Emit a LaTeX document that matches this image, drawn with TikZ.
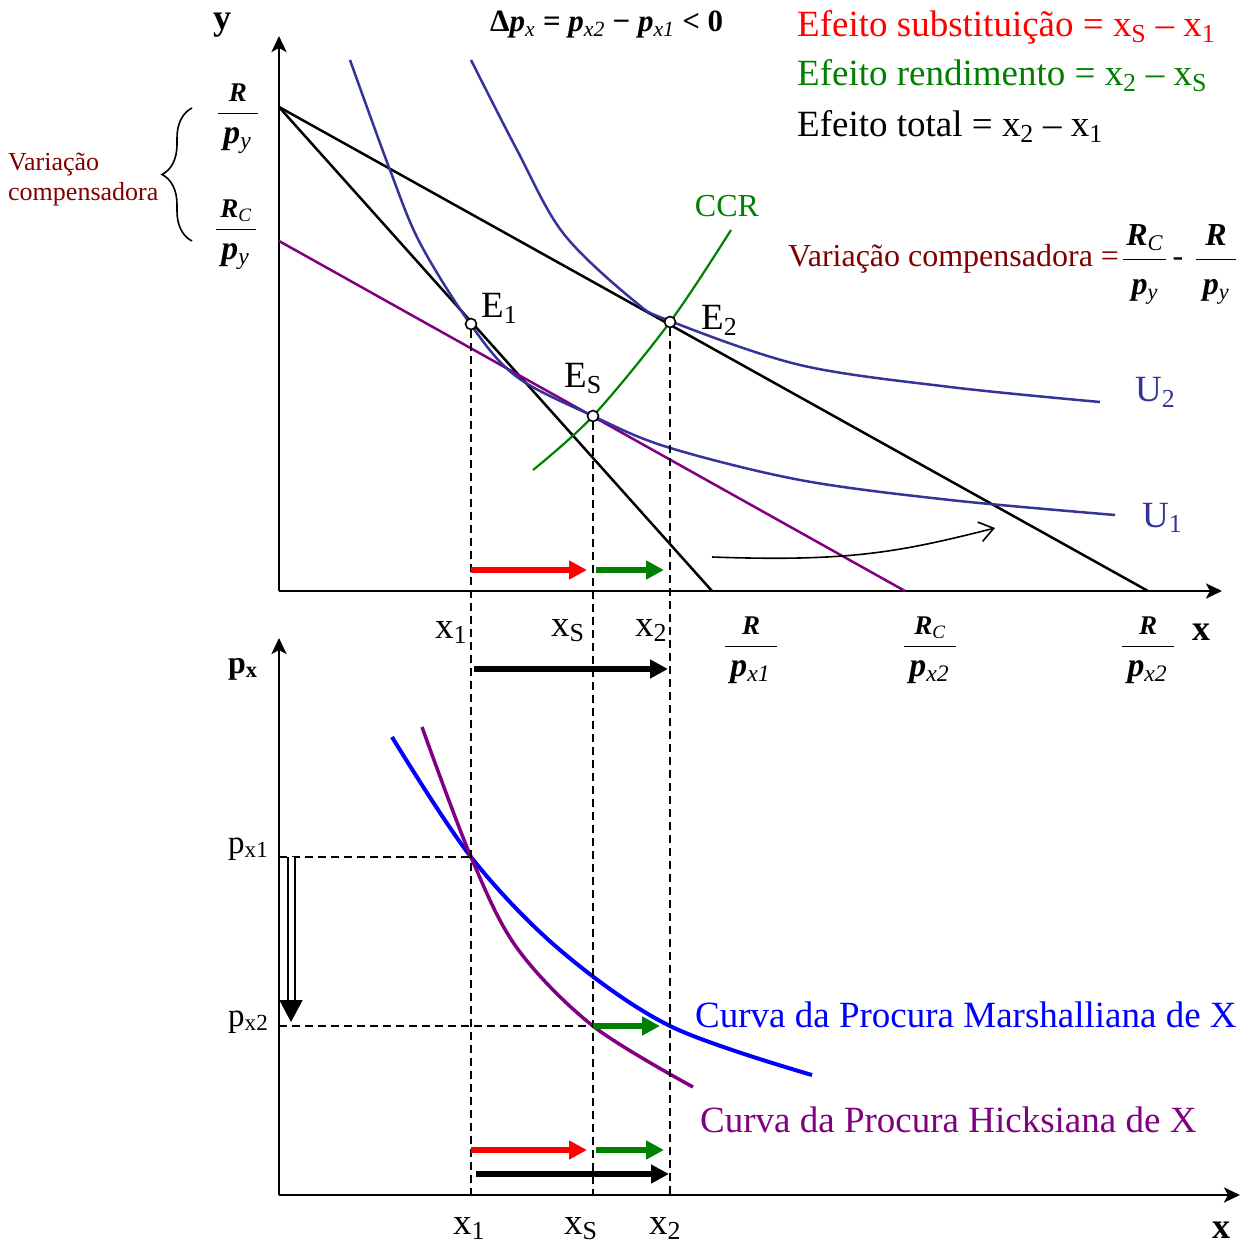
\documentclass[tikz,border=0pt]{standalone}
\usepackage{fix-cm}
\usepackage{amsmath}
\usepackage{fontspec}
\setmainfont{Liberation Serif}
\usetikzlibrary{arrows.meta,decorations.pathreplacing}
\definecolor{bleuU}{RGB}{51,51,153}
\definecolor{hicks}{RGB}{128,0,128}
\definecolor{vertCCR}{RGB}{0,128,0}
\definecolor{bordeaux}{RGB}{128,0,0}
\definecolor{marshall}{RGB}{0,0,255}
\newcommand{\taille}[1]{\fontsize{#1}{#1}\selectfont}
\newcommand{\ind}[1]{\textsubscript{\mdseries #1}}
\makeatletter
\newcommand{\grandp}{\fontsize{\strip@pt\dimexpr1.25\dimexpr\f@size pt\relax\relax}{0}\selectfont}
\makeatother
\newcommand{\fr}[2]{$\dfrac{\text{\bfseries\itshape\hspace{.1em}#1\hspace{.1em}}}{\rule{0pt}{1em}\text{\bfseries\itshape\hspace{.2em}#2\hspace{.2em}}}$}
\begin{document}
\begin{tikzpicture}[x=1pt,y=-1pt]
		% Styles
		\tikzstyle{axe}=[line width=2.8pt,-{Stealth[length=16pt,width=15pt,inset=4pt]}]
		\tikzstyle{budget}=[line width=2.5pt,black]
		\tikzstyle{indiff}=[line width=2.5pt,bleuU]
		\tikzstyle{pointille}=[line width=2pt,dash pattern=on 8pt off 5pt]
		\tikzstyle{point}=[circle,draw,fill=white,line width=1.6pt,minimum size=11pt,inner sep=0pt]
		\tikzstyle{effet}=[line width=6pt,-{Triangle[length=18pt,width=18pt]}]
		\tikzstyle{texte}=[inner sep=0pt,font=\taille{37}]
		\tikzstyle{fraction}=[inner sep=0pt,anchor=base,font=\taille{27}]
		% Dimensions
		\def\yEffetA{570}
		\def\yTotalA{669}
		\def\yEffetB{1150}
		\def\yTotalB{1174}
		\useasboundingbox (0,0) rectangle (1248,1246);
		% Axes
		\coordinate (O) at (279,591);
		\coordinate (Yhaut) at (279,36);
		\coordinate (Xfin) at (1222,591);
		\coordinate (O2) at (279,1195);
		\coordinate (Yhaut2) at (279,638);
		\coordinate (Xfin2) at (1240,1195);
		\draw[axe] (O) -- (Yhaut);
		\draw[axe] (O) -- (Xfin);
		\draw[axe] (O2) -- (Yhaut2);
		\draw[axe] (O2) -- (Xfin2);
		% Droites de budget
		\coordinate (A) at (279,107);
		\coordinate (B1) at (712,591);
		\coordinate (B2) at (1148,591);
		\coordinate (C) at (279,241);
		\coordinate (D) at (905,591);
		\draw[budget] (A) -- (B1);
		\draw[budget] (A) -- (B2);
		\draw[line width=2.5pt,hicks] (C) -- (D);
		% Courbes d'indifference et CCR
		\draw[indiff] plot[smooth,tension=0.55] coordinates {(350,60) (390,170) (420,243) (471,325) (517,377) (593,416) (667,447) (800,480) (950,500) (1115,515)};
		\draw[indiff] plot[smooth,tension=0.55] coordinates {(471,60) (517,150) (563,233) (633,300) (670,321) (800,365) (950,387) (1100,402)};
		\draw[line width=2.2pt,vertCCR] plot[smooth,tension=0.55] coordinates {(533,470) (593,416) (670,322) (731,230)};
		% Courbes de procura
		\draw[line width=4pt,marshall] plot[smooth,tension=0.55] coordinates {(392,737) (471,857) (560,950) (670,1026) (812,1075)};
		\draw[line width=3.5pt,hicks] plot[smooth,tension=0.55] coordinates {(422,727) (471,857) (517,948) (593,1026) (693,1087)};
		\coordinate (M1) at (471,857);
		\coordinate (H2) at (593,1026);
		\coordinate (M2) at (670,1026);
		% Points
		\node[point] (E1) at (471,324) {};
		\node[point] (E2) at (670,322) {};
		\node[point] (ES) at (593,416) {};
		% Pointilles
		\draw[pointille] (E1.south) -- (E1 |- O2);
		\draw[pointille] (ES.south) -- (ES |- O2);
		\draw[pointille] (E2.south) -- (E2 |- O2);
		\draw[pointille] (O2 |- M1) -- (M1);
		\draw[pointille] (O2 |- H2) -- (H2);
		% Effets
		\draw[effet,red] (E1 |- 0,\yEffetA) -- ([xshift=-6pt]ES |- 0,\yEffetA);
		\draw[effet,vertCCR] ([xshift=3pt]ES |- 0,\yEffetA) -- ([xshift=-6pt]E2 |- 0,\yEffetA);
		\draw[effet,black] ([xshift=3pt]E1 |- 0,\yTotalA) -- ([xshift=-2pt]E2 |- 0,\yTotalA);
		\draw[effet,red] (E1 |- 0,\yEffetB) -- ([xshift=-6pt]ES |- 0,\yEffetB);
		\draw[effet,vertCCR] ([xshift=3pt]ES |- 0,\yEffetB) -- ([xshift=-6pt]E2 |- 0,\yEffetB);
		\draw[effet,black] ([xshift=5pt]E1 |- 0,\yTotalB) -- ([xshift=-1pt]E2 |- 0,\yTotalB);
		\draw[effet,vertCCR] (H2) -- ([xshift=-10pt]M2);
		\draw[line width=2pt,double distance=5pt,-{Triangle[length=22pt,width=23pt]}] (291,857) -- (291,1022);
		% Deplacement de la droite
		\coordinate (depA) at (712,557);
		\coordinate (depB) at (995,528);
		\draw[line width=1.6pt,-{Straight Barb[length=14pt,width=20pt]}] (depA) .. controls (850,562) and (900,552) .. (depB);
		% Accolade
		\coordinate (accHaut) at (192,108);
		\coordinate (accBas) at (192,241);
		\draw[line width=1.6pt,decorate,decoration={brace,amplitude=30pt}] (accBas) -- (accHaut);
		% Textes
		\node[texte,font=\taille{36}\bfseries,anchor=base] (ly) at (222,30) {y};
		\node[texte,font=\taille{36}\bfseries,anchor=base] (lx) at (1201,640) {x};
		\node[texte,font=\taille{36}\bfseries,anchor=base] (lx2) at (1221,1238) {x};
		\node[texte,font=\taille{32}\bfseries,anchor=base west] (lpx) at (228,673) {p\textsubscript{x}};
		\node[texte,font=\taille{33},anchor=base west] (lpx1) at (228,853) {p\ind{x1}};
		\node[texte,font=\taille{33},anchor=base west] (lpx2) at (228,1026) {p\ind{x2}};
		\node[fraction] (Rpy) at (238,120) {\fr{R}{\grandp p\ind{y}}};
		\node[fraction] (RCpy) at (236,236) {\fr{R\ind{C}}{\grandp p\ind{y}}};
		\node[fraction] (Rpx1) at (751,653) {\fr{R}{\grandp p\ind{x1}}};
		\node[fraction] (RCpx2) at (930,653) {\fr{R\ind{C}}{\grandp p\ind{x2}}};
		\node[fraction] (Rpx2) at (1148,653) {\fr{R}{\grandp p\ind{x2}}};
		\node[texte,font=\fontsize{26}{30}\selectfont,text=bordeaux,align=left,anchor=west] (VCg) at (8,180) {Variação\\compensadora};
		\node[texte,font=\taille{31}\bfseries,anchor=base west] (dpx) at (490,32) {Δ\textit{p}\ind{\itshape x} = \textit{p}\ind{\itshape x2} − \textit{p}\ind{\itshape x1} < 0};
		\node[texte,text=red,anchor=base west] (ES1) at (797,37) {Efeito substituição = x\ind{S} – x\ind{1}};
		\node[texte,text=vertCCR,anchor=base west] (ER1) at (797,86) {Efeito rendimento = x\ind{2} – x\ind{S}};
		\node[texte,anchor=base west] (ET1) at (797,137) {Efeito total = x\ind{2} – x\ind{1}};
		\node[texte,font=\taille{32},text=bordeaux,anchor=base west] (VCd) at (788,267) {Variação compensadora =\hspace{3pt}\textcolor{black}{\fr{R\ind{C}}{p\ind{y}}\hspace{5pt}-\hspace{12pt}\fr{R}{p\ind{y}}}};
		\node[texte,font=\taille{32},text=vertCCR,anchor=base] (lCCR) at (727,217) {CCR};
		\node[texte,anchor=base west] (lE1) at (481,318) {E\ind{1}};
		\node[texte,anchor=base west] (lE2) at (701,330) {E\ind{2}};
		\node[texte,anchor=base west] (lES) at (564,388) {E\ind{S}};
		\node[texte,text=bleuU,anchor=base west] (lU2) at (1135,402) {U\ind{2}};
		\node[texte,text=bleuU,anchor=base west] (lU1) at (1142,527) {U\ind{1}};
		\node[texte,anchor=base west] (x1h) at (435,638) {x\ind{1}};
		\node[texte,anchor=base west] (xSh) at (551,636) {x\ind{S}};
		\node[texte,anchor=base west] (x2h) at (635,636) {x\ind{2}};
		\node[texte,anchor=base west] (x1b) at (453,1234) {x\ind{1}};
		\node[texte,anchor=base west] (xSb) at (564,1234) {x\ind{S}};
		\node[texte,anchor=base west] (x2b) at (649,1234) {x\ind{2}};
		\node[texte,text=marshall,anchor=base west] (lM) at (695,1027) {Curva da Procura Marshalliana de X};
		\node[texte,text=hicks,anchor=base west] (lH) at (700,1132) {Curva da Procura Hicksiana de X};
	\end{tikzpicture}
\end{document}
